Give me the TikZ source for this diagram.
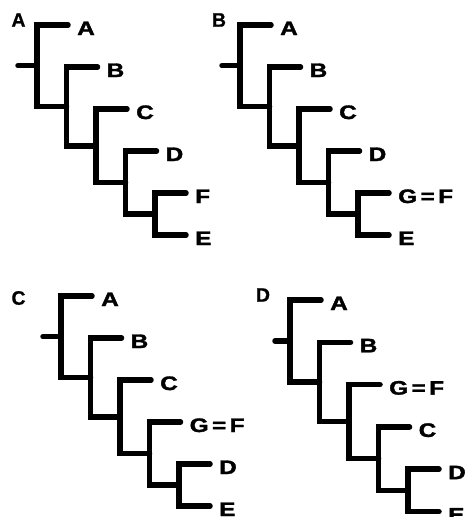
\documentclass[tikz,border=0pt]{standalone}
\usepackage{fontspec}
\setmainfont{Liberation Sans}[WordSpace=0.5]
\newfontfamily\heavyfont{Liberation Sans Bold}[FakeBold=1.6, WordSpace=0.5]
\newfontfamily\letterfont{Liberation Sans Bold}[FakeBold=0.8]
\usepackage{graphicx}

\tikzset{
  branch/.style={line width=5.5pt, line cap=round, line join=miter},
  tiplabel/.style={anchor=base west, inner sep=0pt,
    font=\fontsize{19.5}{22}\heavyfont},
  panelletter/.style={inner sep=0pt,
    font=\fontsize{19.5}{22}\letterfont},
}

% wide heavy tip labels
\newcommand\widelabel[1]{\scalebox{1.25}[1]{#1}}

% A pectinate tree with six tips.
% #1 name prefix, #2 vertical spacing of tips, #3 root stub length, #4-#9 tip labels
\newcommand\cladetree[9]{%
  \pgfmathsetmacro\sy{#2}
  % joins of the five internal nodes (midpoints of their children)
  \coordinate (#1-j1) at (0, 0.96875*\sy);
  \coordinate (#1-j2) at (29.5, 1.9375*\sy);
  \coordinate (#1-j3) at (59, 2.875*\sy);
  \coordinate (#1-j4) at (88.5, 3.75*\sy);
  \coordinate (#1-j5) at (118, 4.5*\sy);
  % free ends of the tip branches
  \coordinate (#1-e1) at (31, 0);
  \coordinate (#1-e2) at (60.5, \sy);
  \coordinate (#1-e3) at (90, 2*\sy);
  \coordinate (#1-e4) at (119.5, 3*\sy);
  \coordinate (#1-e5) at (149, 4*\sy);
  \coordinate (#1-e6) at (149, 5*\sy);
  \coordinate (#1-root) at (-#3, 0.96875*\sy);
  % branches
  \draw[branch] (#1-root) -- (#1-j1);
  \draw[branch] (#1-e1) -| (#1-j1) |- (#1-j2);
  \draw[branch] (#1-e2) -| (#1-j2) |- (#1-j3);
  \draw[branch] (#1-e3) -| (#1-j3) |- (#1-j4);
  \draw[branch] (#1-e4) -| (#1-j4) |- (#1-j5);
  \draw[branch] (#1-e5) -| (#1-j5) |- (#1-e6);
  % tip labels
  \node[tiplabel] (#1-l1) at ([xshift=9pt,yshift=-10pt]#1-e1) {\widelabel{#4}};
  \node[tiplabel] (#1-l2) at ([xshift=9pt,yshift=-10pt]#1-e2) {\widelabel{#5}};
  \node[tiplabel] (#1-l3) at ([xshift=9pt,yshift=-10pt]#1-e3) {\widelabel{#6}};
  \node[tiplabel] (#1-l4) at ([xshift=9pt,yshift=-10pt]#1-e4) {\widelabel{#7}};
  \node[tiplabel] (#1-l5) at ([xshift=9pt,yshift=-10pt]#1-e5) {\widelabel{#8}};
  \node[tiplabel] (#1-l6) at ([xshift=9pt,yshift=-10pt]#1-e6) {\widelabel{#9}};
}

\begin{document}
\begin{tikzpicture}[x=1pt, y=-1pt]
  \useasboundingbox (0,0) rectangle (464,517);

  % panel letters
  \node[panelletter] (pA) at (18.5,20) {A};
  \node[panelletter] (pB) at (219,20) {B};
  \node[panelletter] (pC) at (18.5,298) {C};
  \node[panelletter] (pD) at (263,295) {D};

  \begin{scope}[shift={(37,25)}]
    \cladetree{ta}{42}{19}{A}{B}{C}{D}{F}{E}
  \end{scope}
  \begin{scope}[shift={(240,25)}]
    \cladetree{tb}{42}{18}{A}{B}{C}{D}{G = F}{E}
  \end{scope}
  \begin{scope}[shift={(61,296)}]
    \cladetree{tc}{42}{18}{A}{B}{C}{G = F}{D}{E}
  \end{scope}
  \begin{scope}[shift={(290,300)}]
    \cladetree{td}{42.3}{15}{A}{B}{G = F}{C}{D}{E}
  \end{scope}
\end{tikzpicture}
\end{document}
